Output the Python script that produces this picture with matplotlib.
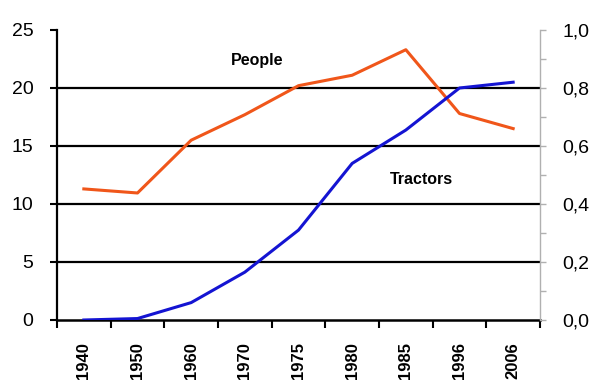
import numpy as np
import matplotlib.pyplot as plt
from matplotlib.ticker import MultipleLocator, FuncFormatter

# years on the x axis (categorical)
years = ['1940', '1950', '1960', '1970', '1975', '1980', '1985', '1996', '2006']
# people in agriculture (left axis)
people = [11.3, 10.95, 15.5, 17.7, 20.2, 21.1, 23.3, 17.8, 16.5]
# tractors (right axis)
tractors = [0.0, 0.005, 0.06, 0.165, 0.31, 0.54, 0.655, 0.80, 0.82]

plt.rcParams['font.family'] = ['Liberation Sans', 'DejaVu Sans']

fig = plt.figure(figsize=(5.97, 3.87), dpi=100)
ax = fig.add_axes([57 / 597, 1 - 320 / 387, (540 - 57) / 597, (320 - 30) / 387])
ax2 = ax.twinx()

x = np.arange(len(years))
ax.plot(x, people, color='#F0561A', lw=2.2, zorder=3)
ax2.plot(x, tractors, color='#1414D2', lw=2.2, zorder=3)

ax.set_xlim(-0.5, len(years) - 0.5)
ax.set_ylim(0, 25)
ax2.set_ylim(0, 1.0)

# horizontal grid lines at 5..20
for yv in [5, 10, 15, 20]:
    ax.axhline(yv, color='black', lw=1.6, zorder=1)

ax.set_yticks([0, 5, 10, 15, 20, 25])
ax.tick_params(axis='y', direction='out', length=5, width=1.5, color='black',
               labelsize=14, pad=12)
ax.set_xticks(x)
ax.set_xticklabels(years, rotation=90, fontsize=12, fontweight='bold')
ax.set_xticks(np.arange(-0.5, len(years), 1), minor=True)
ax.tick_params(axis='x', which='major', length=0, pad=16)
ax.tick_params(axis='x', which='minor', direction='out', length=6, width=1.5, color='black')

ax2.yaxis.set_major_locator(MultipleLocator(0.2))
ax2.yaxis.set_minor_locator(MultipleLocator(0.1))
ax2.yaxis.set_major_formatter(FuncFormatter(lambda v, p: f'{v:.1f}'.replace('.', ',')))
ax2.tick_params(axis='y', which='both', direction='out', length=4, width=1, color='#B0B0B0',
                labelsize=14, pad=12)

for a in (ax, ax2):
    a.spines['top'].set_visible(False)
ax.spines['left'].set_linewidth(1.6)
ax.spines['bottom'].set_linewidth(1.8)
ax.spines['right'].set_visible(False)
ax2.spines['left'].set_visible(False)
ax2.spines['bottom'].set_visible(False)
ax2.spines['right'].set_color('#B0B0B0')
ax2.spines['right'].set_linewidth(1)

ax.text(3.22, 22.4, 'People', fontsize=11.5, fontweight='bold', ha='center', va='center')
ax.text(6.3, 12.07, 'Tractors', fontsize=11.5, fontweight='bold', ha='center', va='center')

fig.savefig('out.png', dpi=100)
